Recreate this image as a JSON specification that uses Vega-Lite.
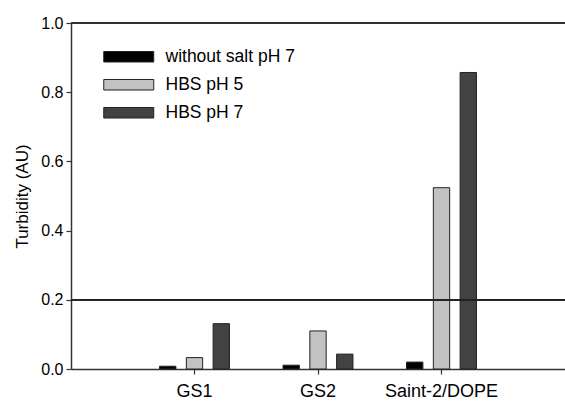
{
  "$schema": "https://vega.github.io/schema/vega-lite/v6.json",
  "width": 494,
  "height": 346,
  "autosize": {"type": "none"},
  "padding": {"left": 71, "top": 23, "right": 0, "bottom": 33},
  "config": {
    "view": {"stroke": null},
    "font": "Liberation Sans",
    "axis": {"labelColor": "#000", "titleColor": "#000", "domainColor": "#333", "tickColor": "#333", "domainWidth": 1.5, "tickWidth": 1.2, "grid": false}
  },
  "data": {
    "values": [
      {"sample": "GS1", "condition": "without salt pH 7", "turbidity": 0.008},
      {"sample": "GS1", "condition": "HBS pH 5", "turbidity": 0.033},
      {"sample": "GS1", "condition": "HBS pH 7", "turbidity": 0.131},
      {"sample": "GS2", "condition": "without salt pH 7", "turbidity": 0.011},
      {"sample": "GS2", "condition": "HBS pH 5", "turbidity": 0.110},
      {"sample": "GS2", "condition": "HBS pH 7", "turbidity": 0.043},
      {"sample": "Saint-2/DOPE", "condition": "without salt pH 7", "turbidity": 0.020},
      {"sample": "Saint-2/DOPE", "condition": "HBS pH 5", "turbidity": 0.524},
      {"sample": "Saint-2/DOPE", "condition": "HBS pH 7", "turbidity": 0.857}
    ]
  },
  "layer": [
    {
      "mark": {"type": "bar", "stroke": "#222", "strokeWidth": 1},
      "encoding": {
        "x": {
          "field": "sample",
          "type": "nominal",
          "sort": ["GS1", "GS2", "Saint-2/DOPE"],
          "scale": {"paddingInner": 0, "paddingOuter": 0.5},
          "axis": {"title": null, "labelAngle": 0, "labelFontSize": 18, "tickSize": 5, "labelPadding": 8}
        },
        "xOffset": {
          "field": "condition",
          "type": "nominal",
          "sort": ["without salt pH 7", "HBS pH 5", "HBS pH 7"],
          "scale": {"paddingInner": 0.39, "paddingOuter": 1.2}
        },
        "y": {
          "field": "turbidity",
          "type": "quantitative",
          "scale": {"domain": [0, 1], "nice": false},
          "axis": {
            "title": "Turbidity (AU)",
            "values": [0, 0.2, 0.4, 0.6, 0.8, 1.0],
            "format": ".1f",
            "labelFontSize": 16,
            "tickSize": 5,
            "labelPadding": 3,
            "titleFontSize": 17,
            "titleFontWeight": "normal",
            "titlePadding": 9
          }
        },
        "color": {
          "field": "condition",
          "type": "nominal",
          "scale": {"domain": ["without salt pH 7", "HBS pH 5", "HBS pH 7"], "range": ["#000000", "#c2c2c2", "#424242"]},
          "legend": {
            "title": null,
            "orient": "none",
            "legendX": 49,
            "legendY": 25,
            "padding": 0,
            "symbolType": "M-4.545,-0.955H4.545V0.955H-4.545Z",
            "symbolSize": 121,
            "symbolStrokeColor": "#222",
            "symbolStrokeWidth": 1,
            "labelFontSize": 17.5,
            "labelColor": "#000",
            "labelOffset": 28,
            "rowPadding": 9
          }
        }
      }
    },
    {
      "mark": {"type": "rule", "color": "#222", "strokeWidth": 1},
      "encoding": {"y": {"datum": 0.2, "type": "quantitative"}}
    },
    {
      "mark": {"type": "rule", "color": "#333", "strokeWidth": 1.5},
      "encoding": {"y": {"datum": 1.0, "type": "quantitative"}}
    }
  ]
}
